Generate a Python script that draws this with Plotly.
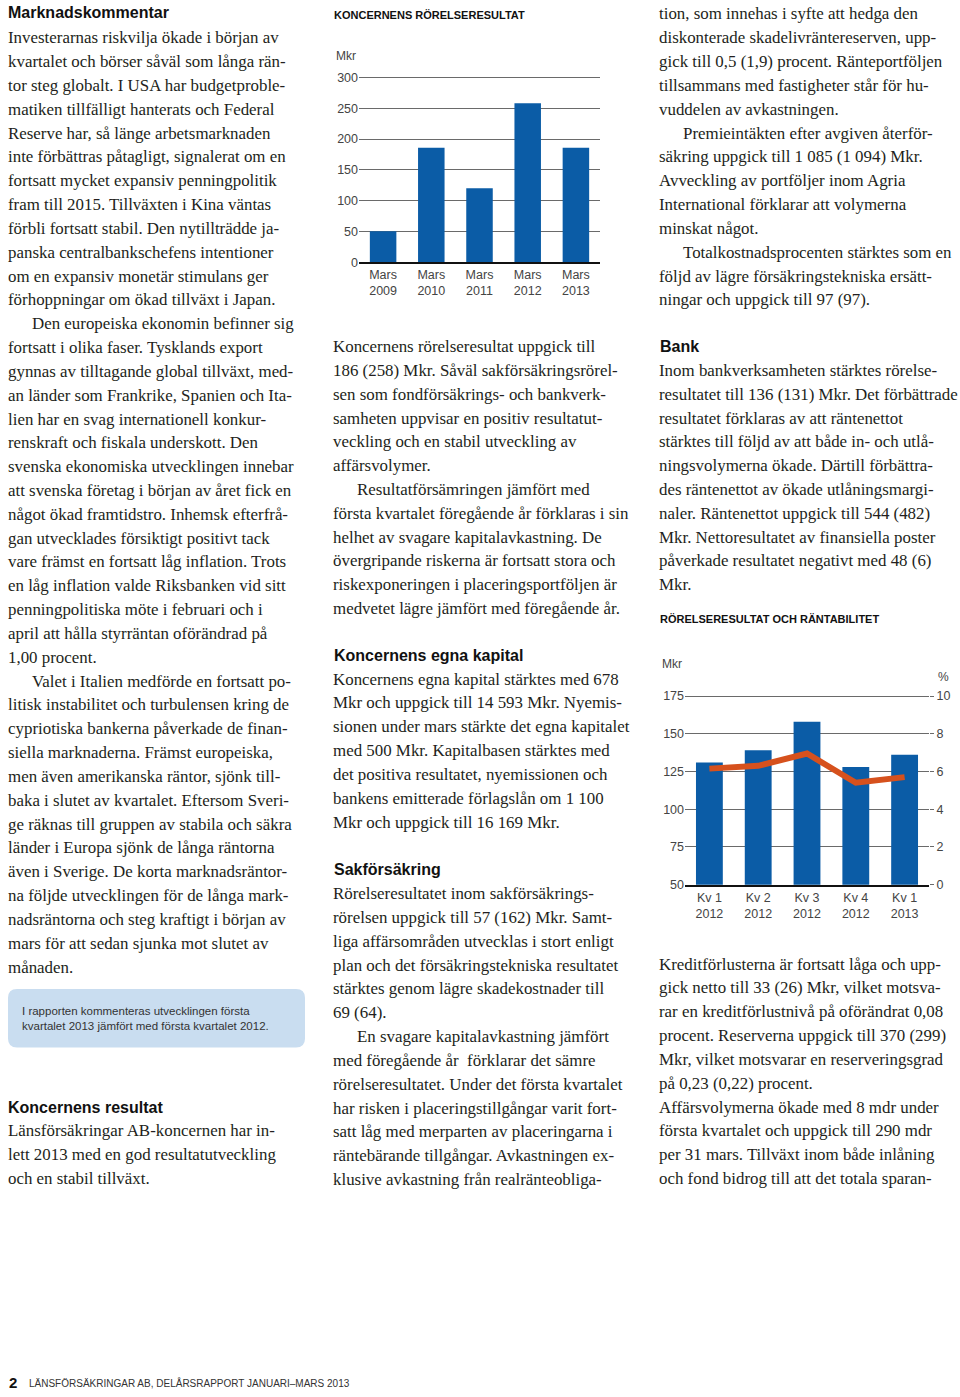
import plotly.graph_objects as go

W, H = 960, 1397

# ---------------- data ----------------
c1_categories = ["Mars<br>2009", "Mars<br>2010", "Mars<br>2011", "Mars<br>2012", "Mars<br>2013"]
c1_values = [50, 186, 120, 258, 186]
c1_ticks = [0, 50, 100, 150, 200, 250, 300]

c2_categories = ["Kv 1<br>2012", "Kv 2<br>2012", "Kv 3<br>2012", "Kv 4<br>2012", "Kv 1<br>2013"]
c2_bars = [131, 139, 158, 128, 136]
c2_line = [6.15, 6.3, 6.95, 5.4, 5.7]
c2_left_ticks = [50, 75, 100, 125, 150, 175]
c2_right_ticks = [0, 2, 4, 6, 8, 10]

# ---------------- text content ----------------
col1_a = [
    "Investerarnas riskvilja ökade i början av",
    "kvartalet och börser såväl som långa rän-",
    "tor steg globalt. I USA har budgetproble-",
    "matiken tillfälligt hanterats och Federal",
    "Reserve har, så länge arbetsmarknaden",
    "inte förbättras påtagligt, signalerat om en",
    "fortsatt mycket expansiv penningpolitik",
    "fram till 2015. Tillväxten i Kina väntas",
    "förbli fortsatt stabil. Den nytillträdde ja-",
    "panska centralbankschefens intentioner",
    "om en expansiv monetär stimulans ger",
    "förhoppningar om ökad tillväxt i Japan.",
    ">Den europeiska ekonomin befinner sig",
    "fortsatt i olika faser. Tysklands export",
    "gynnas av tilltagande global tillväxt, med-",
    "an länder som Frankrike, Spanien och Ita-",
    "lien har en svag internationell konkur-",
    "renskraft och fiskala underskott. Den",
    "svenska ekonomiska utvecklingen innebar",
    "att svenska företag i början av året fick en",
    "något ökad framtidstro. Inhemsk efterfrå-",
    "gan utvecklades försiktigt positivt tack",
    "vare främst en fortsatt låg inflation. Trots",
    "en låg inflation valde Riksbanken vid sitt",
    "penningpolitiska möte i februari och i",
    "april att hålla styrräntan oförändrad på",
    "1,00 procent.",
    ">Valet i Italien medförde en fortsatt po-",
    "litisk instabilitet och turbulensen kring de",
    "cypriotiska bankerna påverkade de finan-",
    "siella marknaderna. Främst europeiska,",
    "men även amerikanska räntor, sjönk till-",
    "baka i slutet av kvartalet. Eftersom Sveri-",
    "ge räknas till gruppen av stabila och säkra",
    "länder i Europa sjönk de långa räntorna",
    "även i Sverige. De korta marknadsräntor-",
    "na följde utvecklingen för de långa mark-",
    "nadsräntorna och steg kraftigt i början av",
    "mars för att sedan sjunka mot slutet av",
    "månaden.",
]
col1_b = [
    "Länsförsäkringar AB-koncernen har in-",
    "lett 2013 med en god resultatutveckling",
    "och en stabil tillväxt.",
]
col2_a = [
    "Koncernens rörelseresultat uppgick till",
    "186 (258) Mkr. Såväl sakförsäkringsrörel-",
    "sen som fondförsäkrings- och bankverk-",
    "samheten uppvisar en positiv resultatut-",
    "veckling och en stabil utveckling av",
    "affärsvolymer.",
    ">Resultatförsämringen jämfört med",
    "första kvartalet föregående år förklaras i sin",
    "helhet av svagare kapitalavkastning. De",
    "övergripande riskerna är fortsatt stora och",
    "riskexponeringen i placeringsportföljen är",
    "medvetet lägre jämfört med föregående år.",
]
col2_b = [
    "Koncernens egna kapital stärktes med 678",
    "Mkr och uppgick till 14 593 Mkr. Nyemis-",
    "sionen under mars stärkte det egna kapitalet",
    "med 500 Mkr. Kapitalbasen stärktes med",
    "det positiva resultatet, nyemissionen och",
    "bankens emitterade förlagslån om 1 100",
    "Mkr och uppgick till 16 169 Mkr.",
]
col2_c = [
    "Rörelseresultatet inom sakförsäkrings-",
    "rörelsen uppgick till 57 (162) Mkr. Samt-",
    "liga affärsområden utvecklas i stort enligt",
    "plan och det försäkringstekniska resultatet",
    "stärktes genom lägre skadekostnader till",
    "69 (64).",
    ">En svagare kapitalavkastning jämfört",
    "med föregående år  förklarar det sämre",
    "rörelseresultatet. Under det första kvartalet",
    "har risken i placeringstillgångar varit fort-",
    "satt låg med merparten av placeringarna i",
    "räntebärande tillgångar. Avkastningen ex-",
    "klusive avkastning från realränteobliga-",
]
col3_a = [
    "tion, som innehas i syfte att hedga den",
    "diskonterade skadelivräntereserven, upp-",
    "gick till 0,5 (1,9) procent. Ränteportföljen",
    "tillsammans med fastigheter står för hu-",
    "vuddelen av avkastningen.",
    ">Premieintäkten efter avgiven återför-",
    "säkring uppgick till 1 085 (1 094) Mkr.",
    "Avveckling av portföljer inom Agria",
    "International förklarar att volymerna",
    "minskat något.",
    ">Totalkostnadsprocenten stärktes som en",
    "följd av lägre försäkringstekniska ersätt-",
    "ningar och uppgick till 97 (97).",
]
col3_b = [
    "Inom bankverksamheten stärktes rörelse-",
    "resultatet till 136 (131) Mkr. Det förbättrade",
    "resultatet förklaras av att räntenettot",
    "stärktes till följd av att både in- och utlå-",
    "ningsvolymerna ökade. Därtill förbättra-",
    "des räntenettot av ökade utlåningsmargi-",
    "naler. Räntenettot uppgick till 544 (482)",
    "Mkr. Nettoresultatet av finansiella poster",
    "påverkade resultatet negativt med 48 (6)",
    "Mkr.",
]
col3_c = [
    "Kreditförlusterna är fortsatt låga och upp-",
    "gick netto till 33 (26) Mkr, vilket motsva-",
    "rar en kreditförlustnivå på oförändrat 0,08",
    "procent. Reserverna uppgick till 370 (299)",
    "Mkr, vilket motsvarar en reserveringsgrad",
    "på 0,23 (0,22) procent.",
    "Affärsvolymerna ökade med 8 mdr under",
    "första kvartalet och uppgick till 290 mdr",
    "per 31 mars. Tillväxt inom både inlåning",
    "och fond bidrog till att det totala sparan-",
]

BLUE = "#0b5ca6"
ORANGE = "#d6511d"
TXT = "#231f20"
GRID = "#6a6a6a"
SERIF = "Liberation Serif"
SANS = "Liberation Sans"
BODY = 16.9


def px(x):
    return x / W


def py(y):
    return 1 - y / H


annotations = []


def text(x, y, s, size=BODY, family=SERIF, color=TXT, bold=False, xanchor="left"):
    if bold:
        s = "<b>" + s + "</b>"
    annotations.append(dict(
        x=px(x), y=py(y), xref="paper", yref="paper", text=s, showarrow=False,
        xanchor=xanchor, yanchor="middle", align="left", borderpad=0,
        font=dict(family=family, size=size, color=color),
    ))


def block(x, y0, lines, step=24, indent=24):
    for i, ln in enumerate(lines):
        xx = x
        if ln.startswith(">"):
            ln = ln[1:]
            xx = x + indent
        text(xx, y0 - 1 + i * step, ln)


# Column 1
text(7, 10, "Marknadskommentar", size=16, family=SANS, bold=True, color="#111")
block(7, 36, col1_a)
text(7, 1112, "Koncernens resultat", size=16, family=SANS, bold=True, color="#111")
block(7, 1137, col1_b)
text(21, 1015, "I rapporten kommenteras utvecklingen första", size=11.5, family=SANS, color="#333")
text(21, 1030, "kvartalet 2013 jämfört med första kvartalet 2012.", size=11.5, family=SANS, color="#333")

# Column 2
text(333, 12, "KONCERNENS RÖRELSERESULTAT", size=11, family=SANS, bold=True, color="#111")
text(335, 53, "Mkr", size=12, family=SANS, color="#444")
block(332, 347, col2_a)
text(333, 657, "Koncernens egna kapital", size=16, family=SANS, bold=True, color="#111")
block(332, 682, col2_b)
text(333, 873, "Sakförsäkring", size=16, family=SANS, bold=True, color="#111")
block(332, 898, col2_c)

# Column 3
block(658, 12, col3_a)
text(659, 346, "Bank", size=16, family=SANS, bold=True, color="#111")
block(658, 371, col3_b)
text(659, 620, "RÖRELSERESULTAT OCH RÄNTABILITET", size=11, family=SANS, bold=True, color="#111")
text(661, 666, "Mkr", size=12, family=SANS, color="#444")
text(950, 679, "%", size=12, family=SANS, color="#444", xanchor="right")
block(658, 969, col3_c)

# Footer
text(8, 1389, "2", size=15, family=SANS, bold=True, color="#111")
text(28, 1390, "LÄNSFÖRSÄKRINGAR AB, DELÅRSRAPPORT JANUARI–MARS 2013", size=10, family=SANS, color="#333")

# Info box (rounded rectangle)
x0, x1, y0, y1, r = 8, 305, 993, 1052, 9
path = (f"M {px(x0 + r)},{py(y0)} L {px(x1 - r)},{py(y0)} Q {px(x1)},{py(y0)} {px(x1)},{py(y0 + r)} "
        f"L {px(x1)},{py(y1 - r)} Q {px(x1)},{py(y1)} {px(x1 - r)},{py(y1)} "
        f"L {px(x0 + r)},{py(y1)} Q {px(x0)},{py(y1)} {px(x0)},{py(y1 - r)} "
        f"L {px(x0)},{py(y0 + r)} Q {px(x0)},{py(y0)} {px(x0 + r)},{py(y0)} Z")
shapes = [dict(type="path", path=path, xref="paper", yref="paper",
               fillcolor="#c9ddf0", line=dict(width=0), layer="below")]

fig = go.Figure()

# Chart 1
fig.add_trace(go.Bar(x=c1_categories, y=c1_values, marker=dict(color=BLUE, line=dict(width=0)),
                     xaxis="x", yaxis="y", showlegend=False, hoverinfo="skip"))
# Chart 2
fig.add_trace(go.Bar(x=c2_categories, y=c2_bars, marker=dict(color=BLUE, line=dict(width=0)),
                     xaxis="x2", yaxis="y2", showlegend=False, hoverinfo="skip"))
fig.add_trace(go.Scatter(x=c2_categories, y=c2_line, mode="lines",
                         line=dict(color=ORANGE, width=6), xaxis="x2", yaxis="y3",
                         showlegend=False, hoverinfo="skip"))

# chart 1 geometry: 0 -> y=261 px, 300 -> y=75 px
c1_top_val = 306
c1_ppu = (261 - 75) / 300
c1_top_px = 261 - c1_top_val * c1_ppu
# chart 2 geometry: 50 -> 888 px, 175 -> 698 px
c2_ppu = (888 - 698) / 125
c2_top_val = 179
c2_top_px = 888 - (c2_top_val - 50) * c2_ppu
c2_right_top = (c2_top_val - 50) / 12.5

tickfont = dict(family=SANS, size=12.5, color="#444")

fig.update_layout(
    width=W, height=H, margin=dict(l=0, r=0, t=0, b=0),
    paper_bgcolor="white", plot_bgcolor="rgba(0,0,0,0)",
    bargap=0.45, annotations=annotations, shapes=shapes,
    xaxis=dict(domain=[px(359), px(600)], anchor="y", type="category",
               showline=True, linecolor="#111", linewidth=2, ticks="",
               tickfont=tickfont, showgrid=False),
    yaxis=dict(domain=[py(261), py(c1_top_px)], anchor="x", range=[0, c1_top_val],
               tickvals=c1_ticks, showgrid=True, gridcolor=GRID, gridwidth=1,
               zeroline=False, showline=False, ticks="", tickfont=tickfont),
    xaxis2=dict(domain=[px(685), px(929)], anchor="y2", type="category",
                showline=True, linecolor="#111", linewidth=2, ticks="",
                tickfont=tickfont, showgrid=False),
    yaxis2=dict(domain=[py(888), py(c2_top_px)], anchor="x2", range=[50, c2_top_val],
                tickvals=c2_left_ticks, showgrid=True, gridcolor=GRID, gridwidth=1,
                zeroline=False, showline=False, ticks="", tickfont=tickfont),
    yaxis3=dict(overlaying="y2", side="right", anchor="x2", range=[0, c2_right_top],
                tickvals=c2_right_ticks, showgrid=False, zeroline=False, showline=False,
                ticks="outside", ticklen=4, tickcolor=GRID, tickfont=tickfont),
)

# remove the browser's default page margin so the 960x1397 figure fills the window
fig.write_html("out.html", config={"displayModeBar": False},
               post_script="document.body.style.margin='0';")
